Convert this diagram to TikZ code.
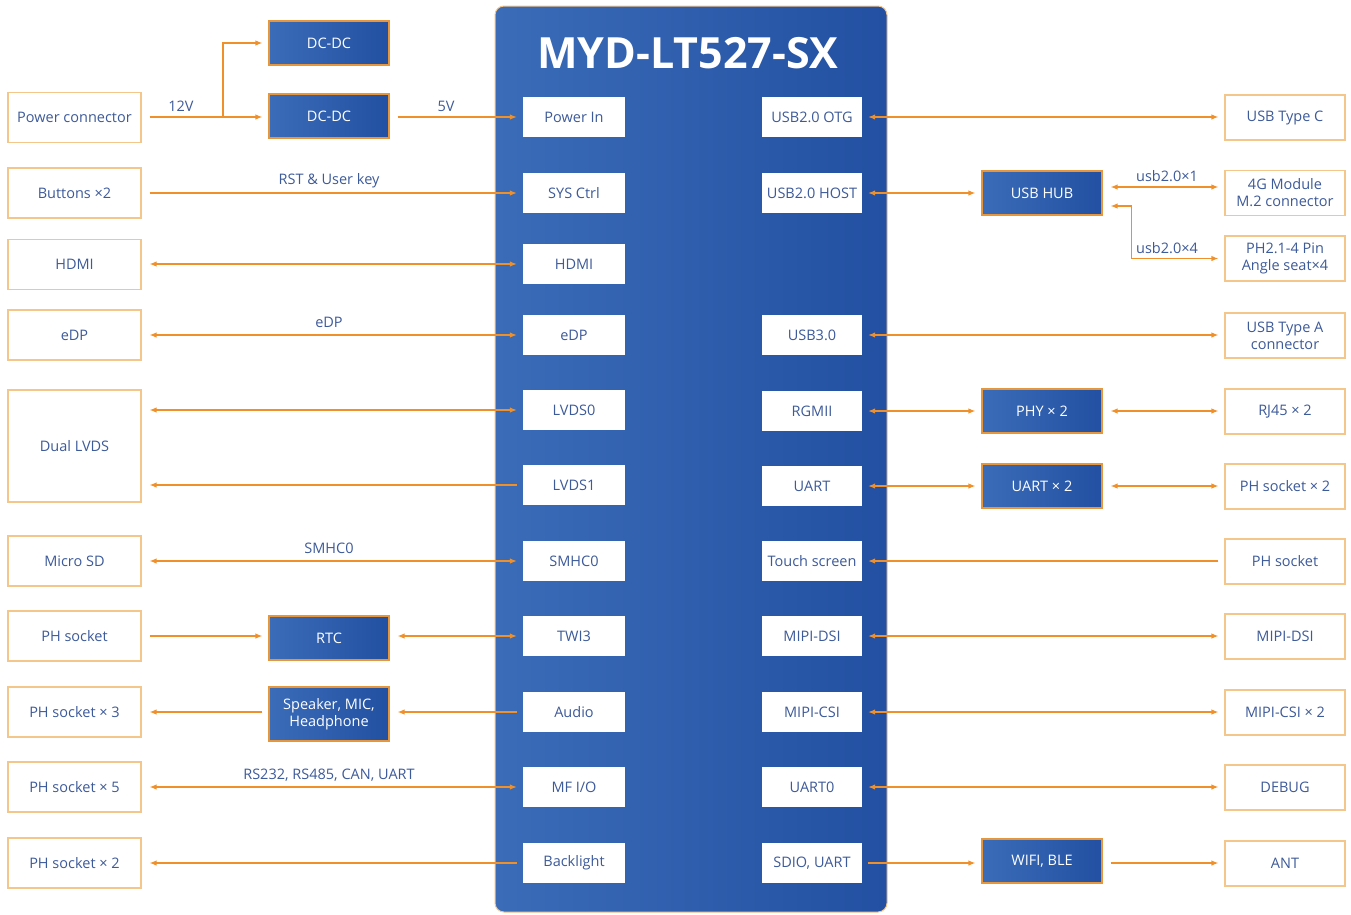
\documentclass[tikz,border=0pt]{standalone}
\usepackage{fontspec}
\setmainfont{Open Sans}
\usetikzlibrary{arrows.meta}
\definecolor{arr}{HTML}{F0902A}
\definecolor{obord}{HTML}{F5C68C}
\definecolor{dbord}{HTML}{E8963C}
\definecolor{txt}{HTML}{3D5A99}
\definecolor{bl}{HTML}{3A6CB8}
\definecolor{br}{HTML}{2350A2}
\tikzset{
  boxfont/.style={font=\fontsize{14.5}{17}\selectfont},
  outerbox/.style={draw=obord,line width=1.2pt,fill=white,text=txt,align=center,
    minimum width=133pt,minimum height=50pt,inner sep=1pt,boxfont},
  rightbox/.style={outerbox,minimum width=120pt,minimum height=45pt},
  innerbox/.style={fill=white,text=txt,align=center,minimum width=102pt,minimum height=40pt,
    inner sep=1pt,boxfont},
  darkbox/.style={draw=dbord,line width=1.2pt,left color=bl,right color=br,text=white,align=center,
    minimum width=120pt,minimum height=44pt,inner sep=1pt,boxfont},
  conn/.style={draw=arr,line width=1.2pt,arrows={-},shorten <=8pt,shorten >=6pt,
    >={Latex[length=7pt,width=5.5pt]}},
  lbl/.style={text=txt,boxfont,inner sep=1pt},
}
\begin{document}
\begin{tikzpicture}[x=1pt,y=-1pt]
\useasboundingbox (0,0) rectangle (1351,914);
% main board
\shade[left color=bl,right color=br,rounded corners=9pt] (495,6) rectangle (887,912);
\draw[obord,line width=1pt,rounded corners=9pt] (495,6) rectangle (887,912);
\node[text=white,font=\fontsize{43}{48}\selectfont\bfseries] (title) at (688,53) {MYD-LT527-SX};

% left outer boxes
\node[outerbox] (pc) at (74.5,117.5) {Power connector};
\node[outerbox] (btn) at (74.5,193) {Buttons ×2};
\node[outerbox] (hdmiL) at (74.5,264.5) {HDMI};
\node[outerbox] (edpL) at (74.5,335) {eDP};
\node[outerbox,minimum height=112pt] (dual) at (74.5,446) {Dual LVDS};
\node[outerbox] (sd) at (74.5,561) {Micro SD};
\node[outerbox] (phs) at (74.5,636) {PH socket};
\node[outerbox] (ph3) at (74.5,712) {PH socket × 3};
\node[outerbox] (ph5) at (74.5,787) {PH socket × 5};
\node[outerbox] (ph2) at (74.5,863) {PH socket × 2};

% left dark boxes
\node[darkbox] (dc1) at (329,43) {DC-DC};
\node[darkbox] (dc2) at (329,116) {DC-DC};
\node[darkbox] (rtc) at (329,638) {RTC};
\node[darkbox,minimum height=54pt] (spk) at (329,714) {Speaker, MIC,\\Headphone};

% inner left
\node[innerbox] (pin) at (574,117) {Power In};
\node[innerbox] (sys) at (574,193) {SYS Ctrl};
\node[innerbox] (hdmi) at (574,264) {HDMI};
\node[innerbox] (edp) at (574,335) {eDP};
\node[innerbox] (lvds0) at (574,410) {LVDS0};
\node[innerbox] (lvds1) at (574,485) {LVDS1};
\node[innerbox] (smhc) at (574,561) {SMHC0};
\node[innerbox] (twi) at (574,636) {TWI3};
\node[innerbox] (audio) at (574,712) {Audio};
\node[innerbox] (mfio) at (574,787) {MF I/O};
\node[innerbox] (bkl) at (574,863) {Backlight};

% inner right
\node[innerbox,minimum width=100pt] (otg) at (812,117) {USB2.0 OTG};
\node[innerbox,minimum width=100pt] (host) at (812,193) {USB2.0 HOST};
\node[innerbox,minimum width=100pt] (usb3) at (812,335) {USB3.0};
\node[innerbox,minimum width=100pt] (rgmii) at (812,411) {RGMII};
\node[innerbox,minimum width=100pt] (uartR) at (812,486) {UART};
\node[innerbox,minimum width=100pt] (touch) at (812,561) {Touch screen};
\node[innerbox,minimum width=100pt] (dsi) at (812,636) {MIPI-DSI};
\node[innerbox,minimum width=100pt] (csi) at (812,712) {MIPI-CSI};
\node[innerbox,minimum width=100pt] (uart0) at (812,787) {UART0};
\node[innerbox,minimum width=100pt] (sdio) at (812,863) {SDIO, UART};

% right dark boxes
\node[darkbox] (hub) at (1042,193) {USB HUB};
\node[darkbox] (phy) at (1042,411) {PHY × 2};
\node[darkbox] (uart2) at (1042,486) {UART × 2};
\node[darkbox] (wifi) at (1042,861) {WIFI, BLE};

% right outer boxes
\node[rightbox] (typec) at (1285,117.5) {USB Type C};
\node[rightbox] (g4) at (1285,193) {4G Module\\M.2 connector};
\node[rightbox] (ph21) at (1285,258.5) {PH2.1-4 Pin\\Angle seat×4};
\node[rightbox] (typea) at (1285,335.5) {USB Type A\\connector};
\node[rightbox] (rj45) at (1285,411.5) {RJ45 × 2};
\node[rightbox] (phs2R) at (1285,486.5) {PH socket × 2};
\node[rightbox] (phR) at (1285,561.5) {PH socket};
\node[rightbox] (dsiR) at (1285,636.5) {MIPI-DSI};
\node[rightbox] (csiR) at (1285,712.5) {MIPI-CSI × 2};
\node[rightbox] (debug) at (1285,787.5) {DEBUG};
\node[rightbox] (ant) at (1285,863.5) {ANT};

% left connectors
\coordinate (brp) at (223,117);
\draw[conn,shorten >=0pt] (pc.east |- brp) -- (brp);
\draw[conn,->,shorten <=0pt] (brp) -- (dc2.west |- brp);
\draw[conn,->,shorten <=0pt] (brp) |- (dc1.west);
\draw[conn,->] (dc2.east |- pin.west) -- (pin.west);
\draw[conn,->] (btn.east) -- (sys.west);
\draw[conn,<->] (hdmiL.east |- hdmi.west) -- (hdmi.west);
\draw[conn,<->] (edpL.east) -- (edp.west);
\draw[conn,<->] (dual.east |- lvds0.west) -- (lvds0.west);
\draw[conn,->,shorten <=6pt,shorten >=8pt] (lvds1.west) -- (dual.east |- lvds1.west);
\draw[conn,<->] (sd.east) -- (smhc.west);
\draw[conn,->] (phs.east) -- (rtc.west |- phs.east);
\draw[conn,<->] (rtc.east |- twi.west) -- (twi.west);
\draw[conn,->,shorten <=6pt,shorten >=8pt] (audio.west) -- (spk.east |- audio.west);
\draw[conn,->,shorten <=6pt,shorten >=8pt] (spk.west |- ph3.east) -- (ph3.east);
\draw[conn,<->] (ph5.east) -- (mfio.west);
\draw[conn,->,shorten <=6pt,shorten >=8pt] (bkl.west) -- (ph2.east |- bkl.west);

% labels
\node[lbl] (l12) at (181,106) {12V};
\node[lbl] (l5) at (446,106) {5V};
\node[lbl] (lrst) at (329,181) {RST \& User key};
\node[lbl] (ledp) at (329,322) {eDP};
\node[lbl] (lsm) at (329,548) {SMHC0};
\node[lbl] (lrs) at (329,775) {RS232, RS485, CAN, UART};
\node[lbl] (lu1) at (1167,176) {usb2.0×1};
\node[lbl] (lu4) at (1167,248) {usb2.0×4};

% right connectors
\coordinate (hubu) at ([yshift=6pt]hub.east);
\coordinate (hubd) at ([yshift=-13pt]hub.east);
\draw[conn,<->,shorten <=6pt] (otg.east) -- (typec.west |- otg.east);
\draw[conn,<->,shorten <=6pt] (host.east) -- (hub.west);
\draw[conn,<->] (hubu) -- (g4.west |- hubu);
\draw[conn,<->] (hubd) -- ++(29,0) |- (ph21.west);
\draw[conn,<->,shorten <=6pt] (usb3.east) -- (typea.west |- usb3.east);
\draw[conn,<->,shorten <=6pt] (rgmii.east) -- (phy.west);
\draw[conn,<->] (phy.east) -- (rj45.west |- phy.east);
\draw[conn,<->,shorten <=6pt] (uartR.east) -- (uart2.west);
\draw[conn,<->] (uart2.east) -- (phs2R.west |- uart2.east);
\draw[conn,->,shorten <=6pt] (phR.west |- touch.east) -- (touch.east);
\draw[conn,<->,shorten <=6pt] (dsi.east) -- (dsiR.west |- dsi.east);
\draw[conn,<->,shorten <=6pt] (csi.east) -- (csiR.west |- csi.east);
\draw[conn,<->,shorten <=6pt] (uart0.east) -- (debug.west |- uart0.east);
\draw[conn,->,shorten <=6pt] (sdio.east) -- (wifi.west |- sdio.east);
\draw[conn,->] (wifi.east |- sdio.east) -- (ant.west |- sdio.east);
\end{tikzpicture}
\end{document}
